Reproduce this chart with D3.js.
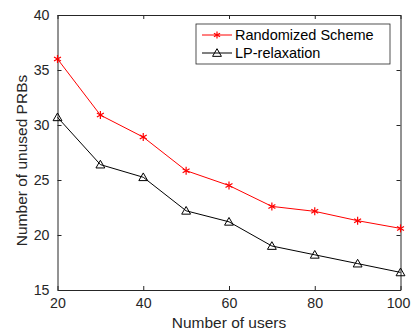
<!DOCTYPE html>
<html>
<head>
<meta charset="utf-8">
<script src="https://cdn.jsdelivr.net/npm/d3@7"></script>
<style>
  body { margin: 0; background: #fff; }
  svg { display: block; font-family: 'Liberation Sans', Arial, sans-serif; }
</style>
</head>
<body>
<svg id="chart" width="411" height="330"></svg>
<script>
const users = [20, 30, 40, 50, 60, 70, 80, 90, 100]
const randomized = [36.0, 30.9, 28.9, 25.85, 24.5, 22.6, 22.15, 21.3, 20.6]
const lpRelax = [30.7, 26.4, 25.25, 22.2, 21.2, 19.0, 18.2, 17.4, 16.6]
const xTicks = [20, 40, 60, 80, 100]
const yTicks = [15, 20, 25, 30, 35, 40]
const seriesNames = ['Randomized Scheme', 'LP-relaxation']

const margin = { top: 15, right: 10.5, bottom: 40, left: 57.5 }
const width = 411 - margin.left - margin.right
const height = 330 - margin.top - margin.bottom
const axisColor = '#262626'

const svg = d3.select('#chart')
const g = svg.append('g').attr('transform', `translate(${margin.left},${margin.top})`)

const x = d3.scaleLinear().domain([20, 100]).range([0, width])
const y = d3.scaleLinear().domain([15, 40]).range([height, 0])

// axes, ticks pointing inward like matlab
const styleAxis = (sel) => {
  sel.selectAll('path').attr('stroke', axisColor)
  sel.selectAll('line').attr('stroke', axisColor)
  sel.selectAll('text').attr('fill', axisColor).style('font-size', '14.2px')
}

g.append('g')
  .attr('transform', `translate(0,${height})`)
  .call(d3.axisBottom(x).tickValues(xTicks).tickSizeInner(-4).tickSizeOuter(0).tickPadding(8))
  .call(styleAxis)
  // keep the last label inside the window
  .call((a) => a.selectAll('.tick').filter((d) => d === 100).select('text').attr('dx', -2.5))

g.append('g')
  .call(d3.axisTop(x).tickValues(xTicks).tickSizeInner(-4).tickSizeOuter(0).tickFormat(''))
  .call(styleAxis)

g.append('g')
  .call(d3.axisLeft(y).tickValues(yTicks).tickSizeInner(-4).tickSizeOuter(0).tickPadding(8))
  .call(styleAxis)

g.append('g')
  .attr('transform', `translate(${width},0)`)
  .call(d3.axisRight(y).tickValues(yTicks).tickSizeInner(-4).tickSizeOuter(0).tickFormat(''))
  .call(styleAxis)

// axis titles
g.append('text')
  .attr('x', width / 2)
  .attr('y', height + 38)
  .attr('text-anchor', 'middle')
  .style('font-size', '15.5px')
  .attr('fill', axisColor)
  .text('Number of users')

g.append('text')
  .attr('transform', 'rotate(-90)')
  .attr('x', -(height / 2 + 8))
  .attr('y', -31)
  .attr('text-anchor', 'middle')
  .style('font-size', '15.5px')
  .attr('fill', axisColor)
  .text('Number of unused PRBs')

const line = d3.line()
  .x((d, i) => x(users[i]))
  .y((d) => y(d))

// asterisk marker
const star = (sel, r, color) => {
  const pts = [[0, -r, 0, r], [-r * 0.87, -r / 2, r * 0.87, r / 2], [-r * 0.87, r / 2, r * 0.87, -r / 2]]
  pts.forEach((p) => {
    sel.append('line')
      .attr('x1', p[0]).attr('y1', p[1]).attr('x2', p[2]).attr('y2', p[3])
      .attr('stroke', color).attr('stroke-width', 1.2)
  })
}
const tri = d3.symbol().type(d3.symbolTriangle).size(34)

g.append('path')
  .datum(randomized)
  .attr('fill', 'none')
  .attr('stroke', '#ff0000')
  .attr('stroke-width', 1)
  .attr('d', line)

g.append('path')
  .datum(lpRelax)
  .attr('fill', 'none')
  .attr('stroke', '#000')
  .attr('stroke-width', 1)
  .attr('d', line)

g.selectAll('.star')
  .data(randomized)
  .join('g')
  .attr('class', 'star')
  .attr('transform', (d, i) => `translate(${x(users[i])},${y(d)})`)
  .each(function () { star(d3.select(this), 4, '#ff0000') })

g.selectAll('.tri')
  .data(lpRelax)
  .join('path')
  .attr('class', 'tri')
  .attr('transform', (d, i) => `translate(${x(users[i])},${y(d) + 0.8})`)
  .attr('d', tri)
  .attr('fill', 'none')
  .attr('stroke', '#000')
  .attr('stroke-width', 1)

// legend
const legend = g.append('g').attr('transform', `translate(${196 - margin.left},${24 - margin.top})`)
legend.append('rect')
  .attr('width', 194)
  .attr('height', 40)
  .attr('fill', '#fff')
  .attr('stroke', axisColor)
  .attr('stroke-width', 0.8)

const colors = ['#ff0000', '#000']
seriesNames.forEach((name, i) => {
  const row = legend.append('g').attr('transform', `translate(0,${11 + i * 18})`)
  row.append('line').attr('x1', 6).attr('x2', 36).attr('stroke', colors[i]).attr('stroke-width', 1)
  if (i === 0) {
    star(row.append('g').attr('transform', 'translate(21,0)'), 3.5, colors[i])
  } else {
    row.append('path').attr('transform', 'translate(21,0.8)').attr('d', tri).attr('fill', 'none').attr('stroke', '#000')
  }
  row.append('text')
    .attr('x', 39)
    .attr('y', 0)
    .attr('dy', '0.35em')
    .style('font-size', '14.5px')
    .attr('fill', '#000')
    .text(name)
})
</script>
</body>
</html>
